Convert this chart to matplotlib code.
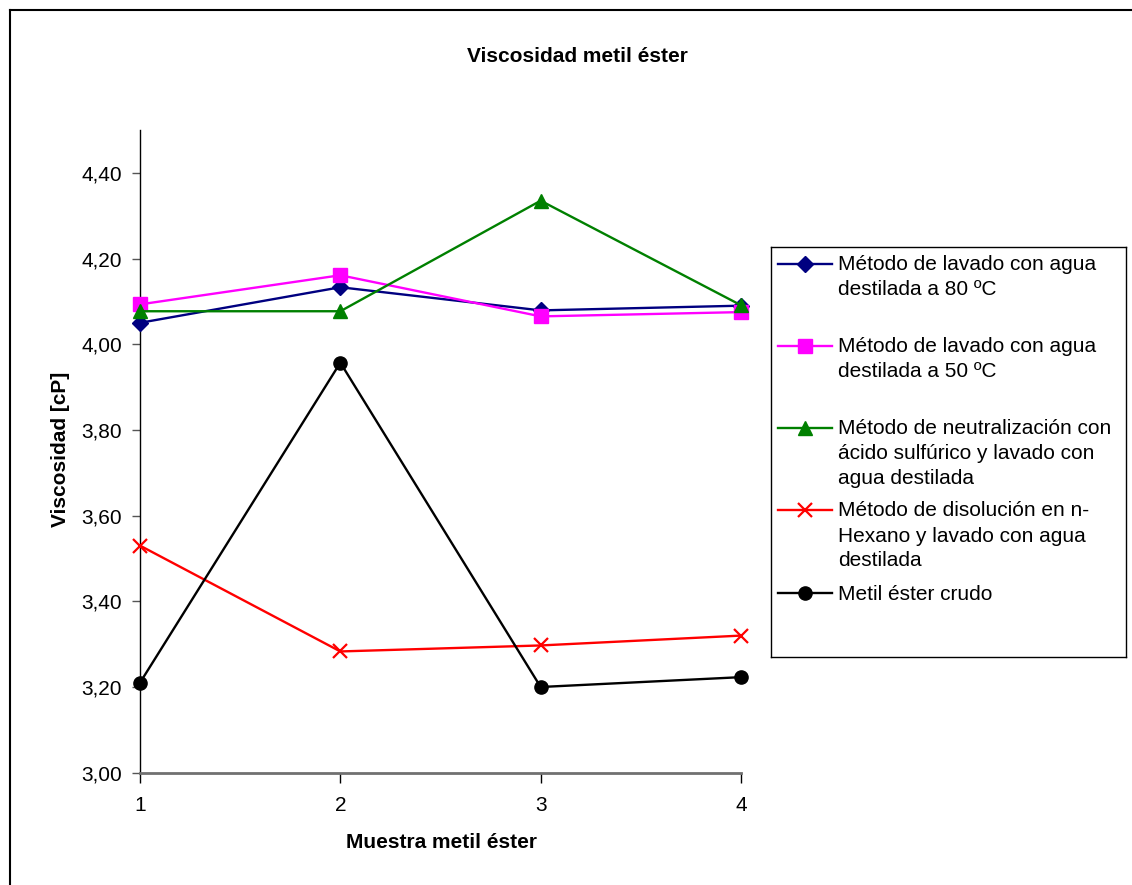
import numpy as np
import matplotlib.pyplot as plt
from matplotlib.lines import Line2D
from matplotlib.ticker import FuncFormatter

plt.rcParams['font.family'] = ['Liberation Sans', 'DejaVu Sans']

# viscosidad [cP] de cada muestra de metil éster
muestras = [1, 2, 3, 4]
lavado_80 = [4.05, 4.133, 4.079, 4.09]
lavado_50 = [4.093, 4.161, 4.065, 4.075]
neutralizacion = [4.077, 4.077, 4.335, 4.091]
hexano = [3.53, 3.283, 3.297, 3.32]
crudo = [3.21, 3.957, 3.20, 3.223]

etiquetas = [
    'Método de lavado con agua\ndestilada a 80 ºC',
    'Método de lavado con agua\ndestilada a 50 ºC',
    'Método de neutralización con\nácido sulfúrico y lavado con\nagua destilada',
    'Método de disolución en n-\nHexano y lavado con agua\ndestilada',
    'Metil éster crudo',
]
series = [lavado_80, lavado_50, neutralizacion, hexano, crudo]
colores = ['#000080', '#FF00FF', '#008000', '#FF0000', '#000000']
marcadores = ['D', 's', '^', 'x', 'o']
tam_marc = [8, 10, 10, 10, 9.5]

W, H = 1132, 885
fig = plt.figure(figsize=(W / 100, H / 100), dpi=100)

# marco exterior del gráfico
fig.add_artist(Line2D([10 / W, 1], [1 - 10 / H, 1 - 10 / H], transform=fig.transFigure,
                      color='black', lw=1.5))
fig.add_artist(Line2D([10 / W, 10 / W], [0, 1 - 10 / H], transform=fig.transFigure,
                      color='black', lw=1.5))

ax = fig.add_axes([140 / W, 1 - 772.7 / H, 601 / W, (772.7 - 130) / H])
for y, c, m, ms in zip(series, colores, marcadores, tam_marc):
    ax.plot(muestras, y, color=c, marker=m, markersize=ms, lw=1.7,
            mew=1.6 if m == 'x' else 1, clip_on=False, zorder=3)

ax.set_xlim(1, 4)
ax.set_ylim(3.0, 4.5)
ax.set_xticks(muestras)
ax.set_yticks(np.arange(3.0, 4.41, 0.2))
ax.yaxis.set_major_formatter(FuncFormatter(lambda v, p: f'{v:.2f}'.replace('.', ',')))
ax.tick_params(axis='y', direction='out', length=6, width=1, color='#555555',
               labelsize=15, pad=7)
ax.tick_params(axis='x', direction='out', length=7, width=1, color='black',
               labelsize=15, pad=10)
for s in ['top', 'right']:
    ax.spines[s].set_visible(False)
ax.spines['left'].set_color('black')
ax.spines['left'].set_linewidth(1)
ax.spines['bottom'].set_color('#707070')
ax.spines['bottom'].set_linewidth(2)

fig.text(577 / W, 1 - 57 / H, 'Viscosidad metil éster', ha='center', va='center',
         fontsize=15, fontweight='bold')
fig.text(441 / W, 1 - 842 / H, 'Muestra metil éster', ha='center', va='center',
         fontsize=15, fontweight='bold')
fig.text(60 / W, 1 - 449 / H, 'Viscosidad [cP]', ha='center', va='center',
         rotation=90, fontsize=15, fontweight='bold')

# leyenda
lx0, ly0, lx1, ly1 = 771, 247, 1126, 657
lg = fig.add_axes([lx0 / W, 1 - ly1 / H, (lx1 - lx0) / W, (ly1 - ly0) / H])
lg.set_xlim(0, lx1 - lx0)
lg.set_ylim(ly1 - ly0, 0)
lg.set_xticks([])
lg.set_yticks([])
for s in lg.spines.values():
    s.set_color('black')
    s.set_linewidth(1)
filas = [17, 99, 181, 263, 346]
for yy, txt, c, m, ms in zip(filas, etiquetas, colores, marcadores, tam_marc):
    lg.plot([7, 61], [yy, yy], color=c, lw=1.7)
    lg.plot([34], [yy], color=c, marker=m, markersize=ms, mew=1.6 if m == 'x' else 1)
    lg.text(67, yy - 8.5, txt, ha='left', va='top', fontsize=15, linespacing=1.4)

fig.savefig('out.png', dpi=100)
